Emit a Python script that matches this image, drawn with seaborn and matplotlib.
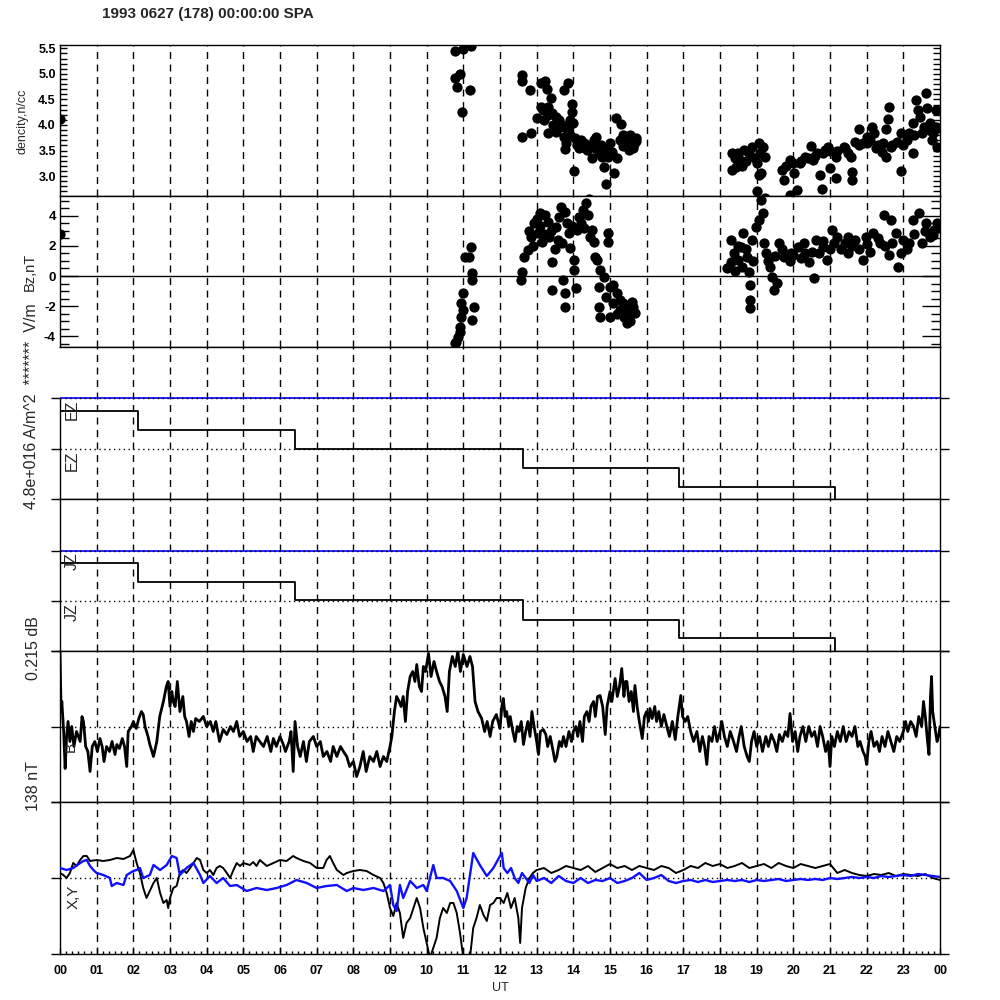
import numpy as np
import matplotlib
matplotlib.use("Agg")
import matplotlib.pyplot as plt
import seaborn as sns
from matplotlib.ticker import MultipleLocator

# Datos: (hora UT, valor)
dens_pts = [
    (0.0, 4.12),
    (10.76, 5.45), (11.0, 5.49), (11.21, 5.55), (10.76, 4.91), (10.92, 5.0), (10.84, 4.75),
    (11.19, 4.68), (10.97, 4.25),
    (12.59, 4.97), (12.61, 4.86), (12.83, 4.68), (12.59, 3.76), (12.85, 3.84), (13.01, 4.13),
    (13.13, 4.83), (13.22, 4.87), (13.27, 4.71), (13.38, 4.52), (13.17, 4.29), (13.11, 4.35),
    (13.32, 4.35), (13.43, 4.23), (13.53, 4.15), (13.32, 3.84), (13.53, 3.86), (13.64, 3.96),
    (13.74, 4.68), (13.85, 4.83), (13.95, 4.42), (13.95, 4.25), (13.9, 4.09), (14.0, 4.03),
    (13.85, 3.9), (13.74, 3.76), (13.79, 3.64), (13.76, 3.53), (14.03, 3.1), (14.21, 3.7),
    (14.26, 3.57), (14.37, 3.51), (14.42, 2.55), (14.52, 3.35), (14.63, 3.76), (14.68, 3.57),
    (14.79, 3.37), (14.84, 3.18), (14.89, 2.84), (14.94, 3.37), (15.05, 3.47), (15.1, 3.06),
    (15.15, 4.13), (15.2, 3.35), (15.31, 4.01),
    (13.2, 4.1), (13.3, 4.2), (13.45, 4.0), (13.6, 4.1), (13.7, 4.0), (13.8, 3.95), (13.9, 3.8),
    (14.05, 3.75), (14.1, 3.6), (14.15, 3.55), (14.3, 3.65), (14.45, 3.6), (14.55, 3.7),
    (14.6, 3.55), (14.7, 3.45), (14.75, 3.6), (14.9, 3.55), (15.0, 3.65),
    (15.26, 3.7), (15.35, 3.8), (15.4, 3.65), (15.45, 3.75), (15.5, 3.6), (15.55, 3.8),
    (15.6, 3.7), (15.65, 3.62), (15.7, 3.75), (15.36, 3.58), (15.52, 3.51), (15.63, 3.55),
    (15.72, 3.68),
    (18.34, 3.45), (18.44, 3.18), (18.34, 3.12), (18.65, 3.51), (18.86, 3.57), (18.55, 3.31),
    (19.07, 3.64), (19.17, 3.57), (19.23, 3.37), (19.02, 3.25), (19.12, 3.06), (19.07, 3.02),
    (19.02, 2.71), (19.23, 2.57), (18.4, 3.35), (18.5, 3.45), (18.7, 3.3), (18.8, 3.45),
    (18.95, 3.35), (19.1, 3.45), (18.6, 3.2),
    (19.7, 3.12), (19.75, 2.92), (19.91, 3.31), (19.91, 2.63), (20.01, 3.06), (20.11, 2.73),
    (20.17, 3.25), (20.32, 3.37), (20.48, 3.58), (20.53, 3.31), (20.64, 3.45), (20.74, 3.02),
    (20.79, 2.74), (20.85, 3.51), (20.95, 3.57), (21.0, 3.16), (21.16, 2.96), (21.16, 3.37),
    (21.37, 3.57), (21.58, 3.37), (21.6, 3.08), (21.6, 2.92), (21.68, 3.66), (21.79, 3.93),
    (21.89, 3.64), (22.0, 3.76), (22.15, 3.97), (22.2, 3.84), (22.26, 3.54), (22.41, 3.47),
    (22.52, 3.37), (22.57, 4.11), (22.6, 4.35), (22.54, 3.93), (22.67, 3.57), (22.83, 3.66),
    (22.94, 3.1), (22.94, 3.84), (23.15, 3.84), (23.25, 3.45), (23.25, 4.03), (23.35, 4.48),
    (23.41, 4.29), (23.46, 4.15), (23.62, 4.62), (23.65, 4.33), (23.56, 3.96), (23.72, 4.03),
    (23.77, 3.7), (23.88, 4.29), (23.88, 3.96), (23.93, 3.57),
    (19.8, 3.2), (20.0, 3.25), (20.2, 3.3), (20.4, 3.35), (20.6, 3.4), (20.8, 3.45),
    (21.0, 3.5), (21.2, 3.5), (21.4, 3.55), (21.5, 3.45), (21.8, 3.6), (22.0, 3.65),
    (22.1, 3.7), (22.3, 3.6), (22.45, 3.65), (22.7, 3.6), (23.0, 3.6), (23.1, 3.7),
    (23.3, 3.8), (23.5, 3.85), (23.7, 3.9), (23.8, 3.85), (24.0, 3.95),
]

bz_pts = [
    (0.0, 2.8),
    (10.76, -4.49), (10.81, -4.38), (10.86, -4.04), (10.9, -3.71), (10.9, -3.38), (10.95, -2.71),
    (10.95, -1.82), (11.0, -1.16), (11.0, -2.27), (11.05, 1.29), (11.15, 1.29), (11.2, 1.96),
    (11.24, 0.18), (11.24, -0.27), (11.29, -2.04), (11.24, -2.93),
    (12.56, -0.27), (12.6, 0.29), (12.65, 1.29), (12.75, 1.73), (12.85, 2.62), (12.94, 3.51),
    (13.09, 4.18), (13.24, 4.07), (13.04, 2.84), (13.14, 2.29), (13.33, 2.62), (13.43, 0.96),
    (13.43, -0.93), (13.53, 3.29), (13.58, 2.4), (13.67, 4.62), (13.77, 4.29), (13.82, 3.51),
    (13.72, -0.27), (13.77, -1.16), (13.77, -2.04), (13.87, 2.84), (13.92, 1.84), (14.01, 1.07),
    (14.01, 0.4), (14.06, -0.82), (14.11, 3.07), (14.21, 3.51), (14.26, 4.4), (14.35, 4.84),
    (14.4, 4.07), (14.5, 3.07), (14.55, 2.29), (14.6, 1.29), (14.65, 1.07), (14.74, 0.4),
    (14.84, -0.04), (14.94, 2.84), (14.94, 2.29), (14.69, -0.71), (14.69, -2.04), (14.74, -2.71),
    (14.89, -1.38), (14.99, -0.71), (15.08, -0.6), (15.08, -1.82), (14.99, -2.71), (15.18, -1.16),
    (15.28, -2.27), (15.37, -2.71), (15.47, -3.16), (15.42, -2.04), (15.62, -2.04), (15.67, -2.49),
    (15.28, -1.6),
    (12.8, 3.0), (12.9, 2.0), (13.0, 3.8), (13.1, 3.3), (13.2, 2.8), (13.3, 3.6), (13.4, 3.0),
    (13.5, 1.8), (13.6, 3.9), (13.7, 2.2), (13.95, 3.3), (14.15, 3.9), (14.3, 3.2), (14.45, 2.6),
    (15.2, -2.5), (15.35, -1.8), (15.5, -2.3), (15.55, -3.0), (15.6, -1.7), (15.45, -2.6),
    (18.19, 0.51), (18.29, 2.4), (18.39, 1.51), (18.48, 1.07), (18.58, 1.96), (18.63, 2.84),
    (18.73, 1.29), (18.78, 0.29), (18.82, -0.6), (18.82, -1.6), (18.82, -2.16), (18.87, 2.4),
    (18.97, 3.29), (19.07, 3.73), (19.16, 4.18), (19.12, 5.07), (19.21, 2.18), (19.26, 1.51),
    (19.36, 0.62), (19.41, -0.04), (19.46, -0.93), (19.55, -0.49), (19.6, 2.18), (19.75, 1.29),
    (19.94, 1.51), (20.14, 1.96), (20.33, 1.51), (20.43, 0.96), (20.57, -0.16), (20.62, 2.4),
    (20.82, 1.96), (20.91, 1.07), (21.06, 3.07), (21.2, 2.62), (21.4, 2.18), (21.5, 1.51),
    (21.69, 2.4), (21.89, 1.07), (21.98, 2.62), (22.18, 2.84), (22.37, 2.18), (22.47, 4.07),
    (22.66, 3.73), (22.81, 2.84), (22.86, 0.62), (22.95, 1.51), (23.15, 2.18), (23.25, 3.73),
    (23.44, 4.18), (23.63, 3.51), (23.73, 2.62), (23.83, 3.07), (23.93, 3.51),
    (18.3, 0.9), (18.4, 0.3), (18.5, 2.0), (18.6, 0.6), (18.7, 1.8), (18.9, 1.0), (19.3, 1.0),
    (19.5, 1.3), (19.7, 1.8), (19.9, 1.0), (20.0, 1.4), (20.2, 1.2), (20.3, 2.2), (20.5, 1.6),
    (20.7, 1.5), (20.8, 2.3), (21.0, 1.8), (21.1, 2.2), (21.3, 1.8), (21.5, 2.6), (21.6, 2.0),
    (21.8, 1.8), (22.0, 2.1), (22.1, 1.6), (22.3, 2.5), (22.5, 2.0), (22.6, 1.4), (22.7, 2.2),
    (23.0, 2.4), (23.1, 1.8), (23.3, 2.8), (23.5, 2.2), (23.6, 3.0), (23.8, 2.7), (24.0, 3.2),
]

# Escalones EZ y JZ (unidades del panel: 1 = linea azul)
ez_hr = [0.0, 2.13, 6.41, 12.63, 16.88, 21.13]
ez_val = [0.87, 0.68, 0.50, 0.31, 0.12, 0.0]
jz_hr = [0.0, 2.13, 6.41, 12.63, 16.88, 21.13]
jz_val = [0.88, 0.69, 0.51, 0.31, 0.13, 0.0]

# Campo total (nT respecto a la linea punteada)
b_trace = [
    (0.00, 75), (0.03, 15), (0.05, 25), (0.10, -5), (0.14, -42), (0.18, -10), (0.22, 5),
    (0.27, -15), (0.32, 0), (0.38, -20), (0.45, -5), (0.55, -15), (0.60, 10), (0.64, 5),
    (0.70, -20), (0.76, -25), (0.82, -45), (0.88, -20), (0.95, -15), (1.02, -25), (1.09, -12),
    (1.15, -20), (1.20, -35), (1.27, -20), (1.35, -25), (1.42, -15), (1.50, -28), (1.55, -18),
    (1.62, -22), (1.70, -12), (1.76, -20), (1.82, -40), (1.86, -5), (1.95, 0), (2.0, 5),
    (2.08, -2), (2.15, 8), (2.22, 15), (2.27, 12), (2.32, 0), (2.40, -10), (2.45, -18),
    (2.55, -30), (2.64, -15), (2.72, 10), (2.82, 25), (2.90, 40), (2.95, 45), (3.00, 20),
    (3.05, 35), (3.09, 25), (3.14, 20), (3.20, 45), (3.27, 15), (3.35, 30), (3.40, 10),
    (3.45, 5), (3.52, -10), (3.58, 5), (3.64, -5), (3.70, 8), (3.80, 5), (3.91, 10), (4.00, 0),
    (4.10, 5), (4.18, -5), (4.25, 5), (4.35, -15), (4.45, -3), (4.55, -8), (4.65, 0),
    (4.73, -5), (4.82, 5), (4.90, -10), (5.00, -5), (5.10, -15), (5.20, -10), (5.27, -25),
    (5.35, -10), (5.45, -15), (5.55, -20), (5.65, -10), (5.75, -25), (5.82, -12), (5.90, -20),
    (6.00, -10), (6.09, -18), (6.15, -25), (6.25, -15), (6.30, -5), (6.36, -45), (6.41, 5),
    (6.48, -20), (6.55, -30), (6.64, -15), (6.72, -35), (6.80, -15), (6.91, -10), (7.00, -20),
    (7.10, -15), (7.18, -30), (7.28, -25), (7.38, -35), (7.45, -20), (7.55, -30), (7.65, -20),
    (7.73, -25), (7.82, -30), (7.90, -40), (8.00, -35), (8.09, -50), (8.18, -40), (8.27, -25),
    (8.35, -45), (8.45, -30), (8.55, -35), (8.64, -25), (8.73, -40), (8.82, -30), (8.91, -35),
    (9.00, -20), (9.05, -10), (9.12, 15), (9.18, 30), (9.25, 25), (9.30, 20), (9.36, 30),
    (9.42, 5), (9.48, 35), (9.55, 50), (9.62, 55), (9.68, 45), (9.73, 62), (9.80, 40),
    (9.86, 35), (9.91, 60), (9.97, 55), (10.05, 73), (10.12, 50), (10.20, 65), (10.27, 55),
    (10.35, 45), (10.42, 40), (10.50, 30), (10.56, 15), (10.62, 55), (10.70, 70), (10.78, 60),
    (10.85, 75), (10.92, 55), (11.00, 72), (11.10, 60), (11.18, 70), (11.25, 60), (11.32, 25),
    (11.40, 15), (11.50, 8), (11.58, -5), (11.65, 5), (11.73, -10), (11.80, 5), (11.90, 12),
    (12.00, -2), (12.05, 20), (12.09, 28), (12.14, 10), (12.18, 15), (12.24, 0), (12.28, 10),
    (12.35, -5), (12.41, -15), (12.47, 0), (12.52, -5), (12.58, 5), (12.64, -18), (12.70, -5),
    (12.76, 5), (12.82, -10), (12.87, 15), (12.93, 0), (13.00, -15), (13.05, -28), (13.10, -5),
    (13.18, -3), (13.25, -8), (13.30, -20), (13.37, -10), (13.45, -25), (13.50, -35),
    (13.55, -30), (13.62, -15), (13.68, -20), (13.73, -10), (13.80, -20), (13.88, -5),
    (13.95, -15), (14.00, -5), (14.07, 0), (14.12, -10), (14.18, 5), (14.25, -15), (14.30, 10),
    (14.37, 15), (14.43, 5), (14.48, 20), (14.55, 25), (14.60, 10), (14.66, 30), (14.73, 31),
    (14.80, 20), (14.87, -8), (14.92, 20), (15.00, 35), (15.05, 25), (15.14, 48), (15.20, 30),
    (15.26, 40), (15.32, 58), (15.38, 30), (15.42, 45), (15.46, 45), (15.52, 25), (15.58, 35),
    (15.64, 15), (15.68, 41), (15.74, 20), (15.80, 5), (15.88, -12), (15.94, 10), (16.00, 15),
    (16.05, 5), (16.09, 18), (16.15, 8), (16.22, 20), (16.27, 5), (16.33, 15), (16.40, 0),
    (16.47, 12), (16.55, 0), (16.62, -10), (16.70, 5), (16.78, -13), (16.85, 10), (16.93, 31),
    (16.98, 10), (17.05, 5), (17.12, 10), (17.20, -5), (17.28, -15), (17.37, -5), (17.45, -25),
    (17.52, -10), (17.58, -20), (17.64, -38), (17.70, -10), (17.78, -15), (17.85, 0),
    (17.92, -15), (18.00, -5), (18.05, 5), (18.12, -10), (18.20, -20), (18.28, -5), (18.37, -15),
    (18.45, -25), (18.52, -10), (18.58, 0), (18.66, -20), (18.74, -30), (18.80, -35),
    (18.86, -15), (18.93, -5), (19.00, -20), (19.08, -10), (19.16, -25), (19.25, -10),
    (19.32, -20), (19.40, -8), (19.48, -15), (19.55, -25), (19.62, -8), (19.70, -15),
    (19.78, -5), (19.85, -10), (19.91, 13), (19.98, -15), (20.05, -5), (20.12, -25), (20.18, -10),
    (20.26, 0), (20.34, -15), (20.42, 0), (20.50, -10), (20.58, -5), (20.66, -20), (20.73, 0),
    (20.80, -10), (20.88, -25), (20.95, -15), (21.00, -40), (21.05, -10), (21.12, -20),
    (21.20, -5), (21.28, -15), (21.36, 0), (21.44, -15), (21.52, -5), (21.60, -10), (21.68, 0),
    (21.76, -20), (21.82, -15), (21.90, -25), (21.96, -30), (22.00, -38), (22.06, -15),
    (22.12, -5), (22.20, -20), (22.28, -15), (22.35, -25), (22.42, -10), (22.50, -20),
    (22.58, -5), (22.66, -15), (22.74, -25), (22.82, -10), (22.90, -15), (23.00, -5), (23.06, 5),
    (23.12, -5), (23.20, 5), (23.28, 0), (23.35, -10), (23.42, 10), (23.50, 0), (23.55, 25),
    (23.60, 10), (23.66, -15), (23.70, -28), (23.74, 30), (23.77, 50), (23.80, 15), (23.87, -3),
    (23.92, -15), (23.96, -10), (24.00, 0),
]

# Componentes X (negro) e Y (azul)
x_trace = [
    (0.0, 5), (0.09, 3), (0.18, 0), (0.27, 5), (0.36, 15), (0.45, 12), (0.55, 18), (0.64, 22),
    (0.73, 22), (0.82, 17), (1.0, 18), (1.18, 17), (1.36, 18), (1.55, 20), (1.73, 19),
    (1.91, 22), (2.0, 28), (2.09, 15), (2.18, 5), (2.27, -10), (2.36, -20), (2.45, -13),
    (2.55, -5), (2.64, 0), (2.73, -15), (2.82, -25), (2.91, -22), (2.95, -30), (3.0, -20),
    (3.09, -10), (3.18, -8), (3.27, 5), (3.36, 8), (3.45, 5), (3.55, 10), (3.64, 15),
    (3.73, 20), (3.82, 18), (3.91, 8), (4.0, 5), (4.09, 8), (4.18, 3), (4.27, 10), (4.36, 12),
    (4.45, 10), (4.55, 5), (4.64, 0), (4.73, 8), (4.82, 15), (4.91, 12), (5.0, 15), (5.18, 13),
    (5.27, 16), (5.36, 12), (5.45, 18), (5.64, 12), (5.82, 15), (6.0, 18), (6.18, 17),
    (6.36, 22), (6.45, 20), (6.64, 17), (6.82, 15), (7.0, 10), (7.18, 10), (7.27, 18),
    (7.36, 22), (7.45, 15), (7.55, 8), (7.73, 3), (7.82, 5), (8.0, 7), (8.18, 8), (8.36, 7),
    (8.55, 3), (8.73, 0), (8.82, -5), (8.91, -15), (9.0, -30), (9.09, -38), (9.18, -25),
    (9.27, -35), (9.36, -60), (9.45, -45), (9.55, -40), (9.64, -30), (9.73, -20), (9.82, -30),
    (9.91, -50), (10.0, -65), (10.09, -80), (10.18, -70), (10.27, -60), (10.36, -40),
    (10.45, -30), (10.55, -35), (10.64, -25), (10.73, -25), (10.82, -35), (10.91, -55),
    (11.0, -80), (11.09, -80), (11.18, -80), (11.27, -50), (11.36, -40), (11.45, -27),
    (11.55, -37), (11.64, -43), (11.73, -27), (11.82, -25), (11.91, -20), (12.0, -20),
    (12.1, -25), (12.2, -15), (12.3, -30), (12.4, -20), (12.5, -40), (12.55, -65), (12.6, -30),
    (12.7, -10), (12.8, 0), (12.9, 5), (13.0, 8), (13.2, 10), (13.4, 5), (13.6, 8), (13.8, 12),
    (14.0, 10), (14.2, 8), (14.4, 12), (14.6, 6), (14.8, 10), (15.0, 14), (15.2, 10),
    (15.4, 12), (15.6, 8), (15.8, 12), (16.0, 10), (16.2, 8), (16.4, 12), (16.6, 10),
    (16.8, 5), (17.0, 8), (17.2, 12), (17.4, 10), (17.6, 15), (17.8, 12), (18.0, 14),
    (18.2, 10), (18.4, 12), (18.6, 15), (18.8, 10), (19.0, 12), (19.2, 14), (19.4, 10),
    (19.6, 15), (19.8, 12), (20.0, 10), (20.2, 14), (20.4, 12), (20.6, 10), (20.8, 12),
    (21.0, 14), (21.2, 5), (21.4, 8), (21.6, 5), (21.8, 3), (22.0, 2), (22.2, 4), (22.4, 3),
    (22.6, 5), (22.8, 2), (23.0, 4), (23.2, 3), (23.4, 2), (23.6, 4), (23.8, 0), (24.0, -2),
]

y_trace = [
    (0.0, 10), (0.18, 8), (0.36, 10), (0.55, 15), (0.64, 17), (0.73, 18), (0.82, 12),
    (0.91, 8), (1.0, 5), (1.18, 3), (1.36, 0), (1.41, -8), (1.55, -5), (1.73, -7), (1.82, 3),
    (2.0, 7), (2.09, 8), (2.18, 10), (2.27, 0), (2.45, 3), (2.55, 13), (2.73, 8), (2.91, 13),
    (3.05, 22), (3.18, 20), (3.27, 3), (3.45, 10), (3.64, 15), (3.82, 3), (3.91, -5),
    (4.09, 2), (4.27, -5), (4.45, 0), (4.64, -8), (4.82, -7), (5.09, -13), (5.36, -10),
    (5.64, -12), (5.91, -10), (6.18, -7), (6.45, -2), (6.73, -5), (7.0, -10), (7.27, -8),
    (7.55, -7), (7.82, -13), (8.0, -10), (8.27, -12), (8.55, -10), (8.82, -13), (9.0, -7),
    (9.09, -27), (9.18, -33), (9.27, -7), (9.36, -20), (9.55, -3), (9.73, -10), (9.91, -7),
    (10.0, -13), (10.18, 13), (10.27, 0), (10.45, 0), (10.64, -3), (10.82, -13), (11.0, -30),
    (11.09, -20), (11.27, 25), (11.45, 13), (11.64, 2), (11.82, 10), (12.0, 22), (12.05, 25),
    (12.1, 10), (12.2, 5), (12.3, 10), (12.4, 0), (12.5, -5), (12.6, 5), (12.7, 0), (12.8, -5),
    (12.9, 3), (13.0, -3), (13.2, 0), (13.4, -5), (13.6, 2), (13.8, -3), (14.0, -5), (14.2, 0),
    (14.4, -5), (14.6, -2), (14.8, -3), (15.0, 0), (15.2, -5), (15.4, -3), (15.6, 0),
    (15.8, 5), (16.0, -2), (16.2, 0), (16.4, 3), (16.6, -3), (16.8, -5), (17.0, -3),
    (17.2, -2), (17.4, -4), (17.6, -2), (17.8, -4), (18.0, -3), (18.2, -2), (18.4, -3),
    (18.6, -2), (18.8, -4), (19.0, -2), (19.2, -3), (19.4, -2), (19.6, -1), (19.8, -3),
    (20.0, -2), (20.2, -1), (20.4, -2), (20.6, -1), (20.8, -2), (21.0, 0), (21.2, -1),
    (21.4, 0), (21.6, 1), (21.8, 0), (22.0, 1), (22.2, 0), (22.4, 2), (22.6, 1), (22.8, 2),
    (23.0, 3), (23.2, 2), (23.4, 4), (23.6, 3), (23.8, 2), (24.0, 1),
]

hour_labels = ["%02d" % (h % 24) for h in range(25)]

# Estilo
sns.set_theme(style="ticks")
plt.rcParams["font.family"] = ["Liberation Sans", "DejaVu Sans"]
plt.rcParams["axes.edgecolor"] = "black"
plt.rcParams["axes.linewidth"] = 1.0
plt.rcParams["xtick.color"] = "black"
plt.rcParams["ytick.color"] = "black"

fig = plt.figure(figsize=(10, 10), dpi=100)


def add_panel(top, bottom):
    ax = fig.add_axes([0.06, 1 - bottom / 1000, 0.88, (bottom - top) / 1000])
    for h in range(1, 24):
        ax.axvline(h, color="black", lw=1, ls=(0, (5, 4)), zorder=1)
    ax.tick_params(axis="x", which="both", bottom=False, top=False, labelbottom=False)
    return ax


def finish(ax):
    ax.set_xlim(0, 24)
    ax.set_xlabel("")
    ax.set_ylabel("")


def ref_ticks(ax, ticks):
    ax.set_yticks(ticks)
    ax.tick_params(axis="y", which="major", direction="out", length=6.5, width=1,
                   left=True, right=True, labelleft=False)


# Panel 1: densidad
ax1 = add_panel(45, 196)
d = np.array(dens_pts)
sns.scatterplot(x=d[:, 0], y=d[:, 1], ax=ax1, color="black", s=55, linewidth=0, zorder=3)
ax1.set_ylim(2.61, 5.565)
ax1.set_yticks([3.0, 3.5, 4.0, 4.5, 5.0, 5.5])
ax1.set_yticklabels(["3.0", "3.5", "4.0", "4.5", "5.0", "5.5"])
ax1.yaxis.set_minor_locator(MultipleLocator(0.1))
ax1.tick_params(axis="y", which="both", direction="in", length=5, width=1,
                left=True, right=True, labelsize=9, pad=3)
finish(ax1)

# Panel 2: Bz
ax2 = add_panel(196, 347)
b = np.array(bz_pts)
sns.scatterplot(x=b[:, 0], y=b[:, 1], ax=ax2, color="black", s=55, linewidth=0, zorder=3)
ax2.axhline(0, color="black", lw=1, zorder=2)
ax2.set_ylim(-4.73, 5.33)
ax2.set_yticks([-4, -2, 0, 2, 4])
ax2.set_yticklabels(["-4", "-2", "0", "2", "4"])
ax2.yaxis.set_minor_locator(MultipleLocator(0.5))
ax2.tick_params(axis="y", which="major", direction="in", length=13, width=1,
                left=True, right=True, labelsize=9.5, pad=3)
ax2.tick_params(axis="y", which="minor", direction="in", length=6.5, width=1,
                left=True, right=True)
finish(ax2)

# Paneles 3 y 4: EZ, JZ
for top, bottom, hr, val, name, ylim in [(347, 499, ez_hr, ez_val, "EZ", 1.505),
                                         (499, 651, jz_hr, jz_val, "JZ", 1.52)]:
    ax = add_panel(top, bottom)
    ax.axhline(1.0, color="blue", lw=1.2, zorder=2)
    ax.axhline(1.0, color="black", lw=1, ls=(0, (1, 2.5)), zorder=2)
    ax.axhline(0.5, color="black", lw=1, ls=(0, (1, 2.5)), zorder=2)
    sns.lineplot(x=hr, y=val, ax=ax, color="black", lw=1.3, drawstyle="steps-post",
                 estimator=None, sort=False, legend=False, zorder=3)
    ax.set_ylim(0, ylim)
    ref_ticks(ax, [0, 0.5, 1.0])
    if name == "EZ":
        ax.spines["left"].set_bounds(0, 1.0)
    finish(ax)
    fig.text(0.0725, 1 - (bottom - 100 + 1) / 1000, name, rotation=90, ha="center",
             va="top", fontsize=11.5)
    fig.text(0.0725, 1 - (bottom - 49 + 1) / 1000, name, rotation=90, ha="center",
             va="top", fontsize=11.5)

# Panel 5: campo total
ax5 = add_panel(651, 802)
bt = np.array(b_trace)
ax5.axhline(0, color="black", lw=1, ls=(0, (1, 2.5)), zorder=2)
sns.lineplot(x=bt[:, 0], y=bt[:, 1], ax=ax5, color="black", lw=2.0,
             estimator=None, sort=False, legend=False, zorder=3)
ax5.set_ylim(-75.5, 75.5)
ref_ticks(ax5, [-75.5, 0, 75.5])
finish(ax5)

# Panel 6: X, Y
ax6 = add_panel(802, 954)
xt = np.array(x_trace)
yt = np.array(y_trace)
ax6.axhline(0, color="black", lw=1, ls=(0, (1, 2.5)), zorder=2)
sns.lineplot(x=xt[:, 0], y=xt[:, 1], ax=ax6, color="black", lw=1.4,
             estimator=None, sort=False, legend=False, zorder=3)
sns.lineplot(x=yt[:, 0], y=yt[:, 1], ax=ax6, color="#1010ff", lw=1.7,
             estimator=None, sort=False, legend=False, zorder=4)
ax6.set_ylim(-76, 76)
ref_ticks(ax6, [-76, 0, 76])
ax6.set_xticks(range(25))
ax6.set_xticklabels(hour_labels)
ax6.xaxis.set_minor_locator(MultipleLocator(1 / 6))
ax6.tick_params(axis="x", which="major", direction="in", bottom=True, top=False,
                labelbottom=True, length=4, width=1, labelsize=9, pad=8)
ax6.tick_params(axis="x", which="minor", direction="in", bottom=True, top=False,
                length=2.5, width=1)
finish(ax6)

for ax in (ax1, ax2, ax6):
    for lab in ax.get_yticklabels() + ax.get_xticklabels():
        lab.set_fontweight("bold")

# Textos
fig.text(0.102, 1 - 0.014, "1993 0627 (178) 00:00:00 SPA", ha="left", va="center",
         fontsize=11, fontweight="bold")
fig.text(0.5, 1 - 0.988, "UT", ha="center", va="center", fontsize=9)
fig.text(0.0225, 1 - 0.121, "dencity,n/cc", rotation=90, ha="center", va="center", fontsize=9)
fig.text(0.030, 1 - 0.272, "Bz,nT", rotation=90, ha="center", va="center", fontsize=10.5)
fig.text(0.032, 1 - 0.406, "4.8e+016 A/m^2  *******  V/m", rotation=90, ha="center",
         va="center", fontsize=11.5)
fig.text(0.034, 1 - 0.648, "0.215 dB", rotation=90, ha="center", va="center", fontsize=11.5)
fig.text(0.034, 1 - 0.786, "138 nT", rotation=90, ha="center", va="center", fontsize=11.5)
fig.text(0.071, 1 - 0.742, "B", rotation=90, ha="center", va="top", fontsize=11)
fig.text(0.0735, 1 - 0.885, "X,Y", rotation=90, ha="center", va="top", fontsize=11)

fig.savefig("out.png", dpi=100, facecolor="white")
